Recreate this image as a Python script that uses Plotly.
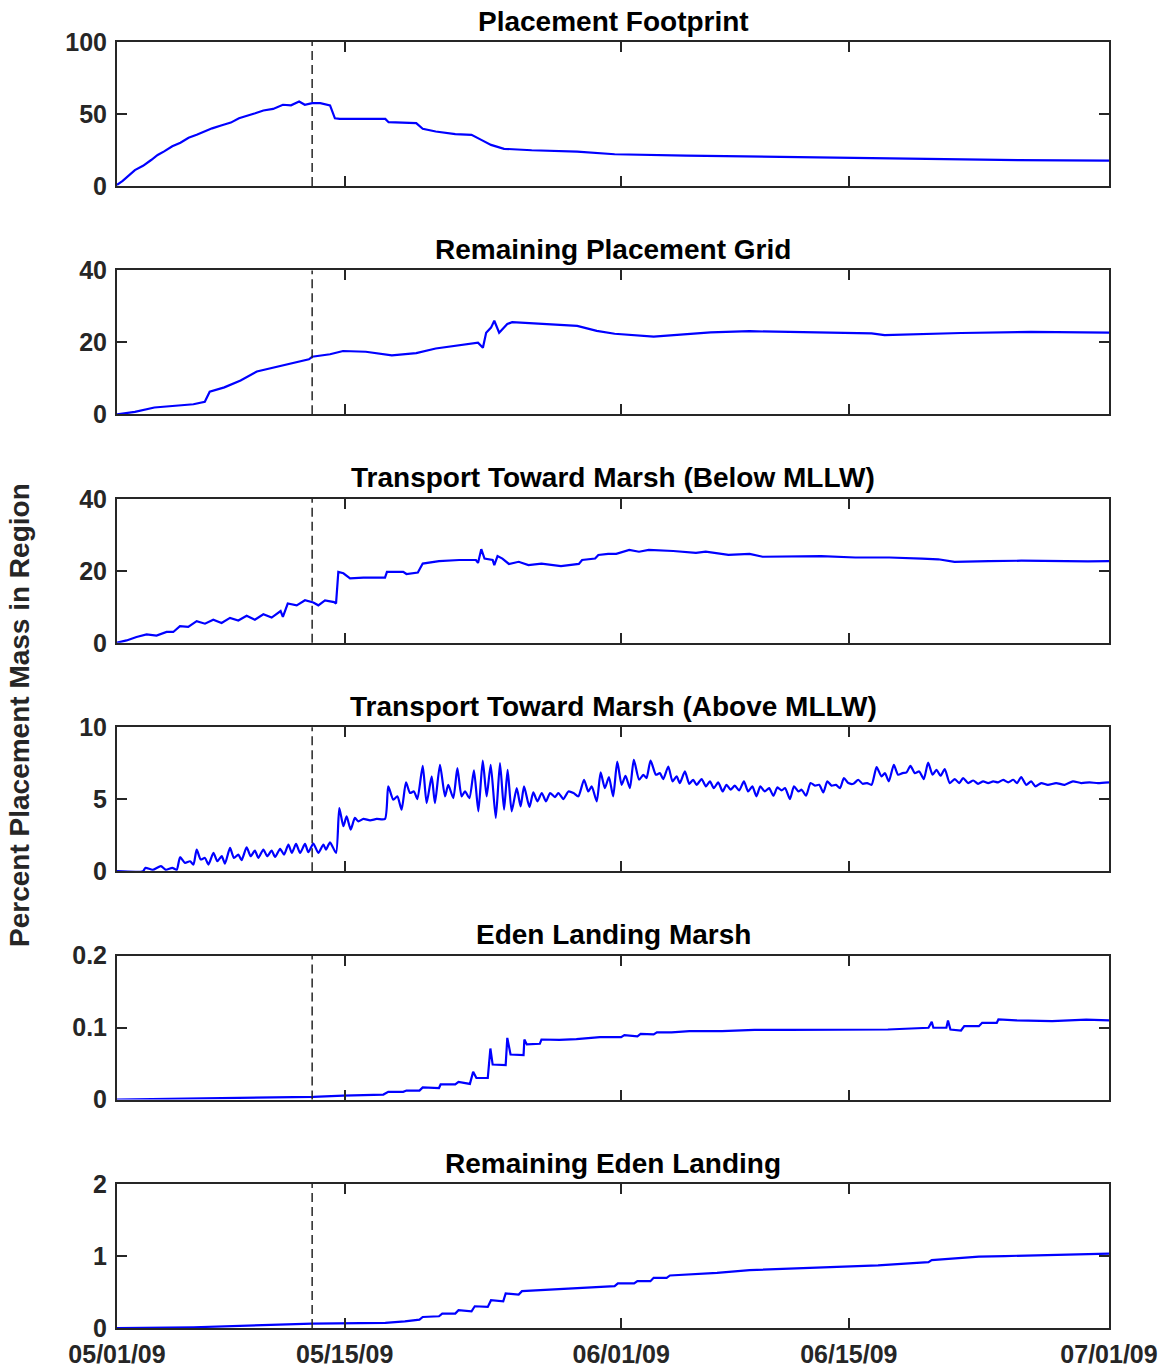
import pandas as pd
import plotly.graph_objects as go
from plotly.subplots import make_subplots

START = pd.Timestamp("2009-05-01")
EVENT_DAY = 12.0  # dashed marker, 05/13/09

# Each region: day offsets from 05/01/09 and percent of placement mass
fp_day = [0, 0.35, 1.1, 1.6, 2.1, 2.5, 2.9, 3.4, 3.9, 4.4, 4.9, 5.4, 5.85, 6.4, 7.0, 7.5, 8.0, 8.5,
          9.0, 9.6, 10.2, 10.7, 11.2, 11.55, 12.0, 12.5, 13.1, 13.4, 13.7, 16.5, 16.7, 18.4, 18.8,
          19.6, 20.8, 21.8, 22.4, 23.0, 23.8, 25.5, 28.3, 30.6, 35.0, 38.9, 44.8, 49.5, 55.4, 61.0]
fp_val = [0.7, 3.5, 11.0, 14.0, 18.0, 21.5, 24.0, 27.5, 30.0, 33.5, 35.5, 38.0, 40.0, 42.0, 44.0,
          47.0, 49.0, 50.5, 52.4, 53.5, 56.4, 56.0, 58.7, 56.4, 57.5, 57.5, 56.0, 47.0, 46.6, 46.6,
          44.3, 43.6, 39.7, 37.8, 36.0, 35.5, 32.0, 28.5, 25.8, 24.8, 23.9, 22.0, 21.1, 20.4, 19.7,
          18.8, 17.9, 17.6]

grid_day = [0, 1.1, 2.3, 3.5, 4.7, 5.4, 5.7, 6.6, 7.6, 8.6, 9.6, 10.6, 11.8, 12.0, 13.1, 13.9, 15.3,
            16.9, 18.4, 19.6, 21.0, 22.2, 22.5, 22.7, 23.0, 23.2, 23.5, 24.0, 24.3, 25.1, 27.1, 28.3,
            29.5, 30.6, 33.0, 35.0, 36.5, 38.9, 42.8, 46.4, 47.2, 49.3, 51.9, 56.2, 61.0]
grid_val = [0, 0.7, 1.9, 2.3, 2.8, 3.5, 6.3, 7.5, 9.4, 11.9, 12.9, 13.9, 15.3, 16.0, 16.7, 17.6, 17.4,
            16.4, 17.0, 18.3, 19.2, 19.9, 18.5, 22.7, 24.1, 26.0, 22.7, 25.1, 25.6, 25.4, 25.1, 24.6,
            23.2, 22.4, 21.6, 22.3, 22.8, 23.1, 22.7, 22.5, 22.0, 22.3, 22.6, 22.9, 22.7]

below_day = [0, 0.59, 1.2, 1.82, 2.43, 3.05, 3.46, 3.87, 4.38, 4.9, 5.41, 5.92, 6.43, 6.95, 7.46,
             7.97, 8.48, 9.0, 9.51, 10.06, 10.2, 10.5, 11.05, 11.56, 12.07, 12.38, 12.79, 13.35,
             13.47, 13.61, 13.92, 14.33, 15.15, 16.48, 16.6, 17.6, 17.8, 18.5, 18.8, 19.8, 21.05,
             22.07, 22.2, 22.4, 22.6, 23.1, 23.2, 23.4, 23.7, 24.1, 24.7, 25.3, 26.1, 27.3, 28.4,
             28.6, 29.4, 29.6, 30.2, 30.7, 31.5, 32.1, 32.7, 34.2, 35.6, 36.2, 37.6, 38.9, 39.7,
             41.3, 43.3, 45.4, 47.5, 49.5, 50.5, 51.5, 52.6, 53.6, 55.6, 57.7, 59.7, 61.0]
below_val = [0, 0.65, 1.6, 2.3, 2.0, 3.0, 3.0, 4.6, 4.4, 6.0, 5.3, 6.4, 5.5, 6.9, 6.2, 7.5, 6.4, 7.9,
             7.0, 8.8, 7.2, 10.9, 10.4, 11.8, 11.2, 10.4, 11.8, 11.3, 10.9, 19.7, 19.3, 17.9, 18.1,
             18.1, 19.7, 19.7, 19.1, 19.5, 22.0, 22.7, 23.0, 23.0, 22.2, 26.0, 23.4, 23.0, 21.6, 24.1,
             23.4, 21.9, 22.5, 21.6, 22.0, 21.3, 21.9, 23.0, 23.4, 24.4, 24.7, 24.7, 25.8, 25.3, 25.8,
             25.5, 25.0, 25.3, 24.4, 24.7, 23.9, 23.9, 24.1, 23.7, 23.7, 23.4, 23.2, 22.5, 22.5, 22.7,
             22.8, 22.6, 22.6, 22.7]

above_day = [0, 1.6, 1.75, 2.2, 2.7, 3.0, 3.4, 3.67, 3.88, 4.18, 4.49, 4.7, 4.9, 5.15, 5.41, 5.62,
             5.93, 6.17, 6.44, 6.64, 6.95, 7.19, 7.46, 7.66, 7.97, 8.22, 8.48, 8.69, 9.0, 9.24, 9.51,
             9.72, 10.03, 10.27, 10.54, 10.75, 11.01, 11.26, 11.56, 11.77, 12.07, 12.38, 12.69,
             12.85, 13.1, 13.47, 13.67, 13.92, 14.12, 14.37, 14.63, 14.84, 15.15, 15.56, 15.97,
             16.48, 16.68, 16.99, 17.24, 17.5, 17.77, 18.02, 18.26, 18.47, 18.8, 19.04, 19.35, 19.55,
             19.86, 20.17, 20.37, 20.68, 20.93, 21.19, 21.4, 21.67, 21.95, 22.22, 22.49, 22.73, 22.98,
             23.29, 23.55, 23.8, 24.02, 24.27, 24.58, 24.82, 25.03, 25.36, 25.6, 25.85, 26.12, 26.38,
             26.63, 26.93, 27.14, 27.45, 27.76, 28.07, 28.37, 28.72, 28.98, 29.19, 29.5, 29.74, 30.0,
             30.25, 30.51, 30.76, 31.03, 31.27, 31.54, 31.78, 32.11, 32.36, 32.56, 32.81, 33.14,
             33.38, 33.59, 33.9, 34.16, 34.41, 34.61, 34.92, 35.19, 35.43, 35.64, 35.95, 36.21,
             36.46, 36.7, 36.97, 37.24, 37.48, 37.73, 37.99, 38.26, 38.55, 38.81, 39.07, 39.32,
             39.56, 39.83, 40.1, 40.36, 40.61, 40.87, 41.08, 41.38, 41.63, 41.9, 42.1, 42.37, 42.65,
             42.92, 43.18, 43.43, 43.68, 43.94, 44.21, 44.46, 44.7, 44.97, 45.28, 45.58, 45.85,
             46.13, 46.4, 46.71, 47.01, 47.22, 47.46, 47.77, 48.03, 48.3, 48.55, 48.79, 49.06, 49.33,
             49.61, 49.88, 50.15, 50.39, 50.64, 50.9, 51.21, 51.52, 51.79, 52.03, 52.34, 52.65,
             52.95, 53.26, 53.57, 53.88, 54.18, 54.49, 54.8, 55.11, 55.35, 55.6, 55.91, 56.21, 56.48,
             56.83, 57.24, 57.75, 58.27, 58.78, 59.29, 59.8, 60.32, 61.0]
above_val = [0, 0, 0.23, 0.1, 0.35, 0.1, 0.23, 0.1, 0.97, 0.58, 0.69, 0.46, 1.5, 0.81, 0.92, 0.46,
             1.27, 0.69, 1.04, 0.53, 1.62, 0.92, 1.15, 0.76, 1.66, 1.04, 1.43, 0.92, 1.5, 1.04, 1.43,
             0.99, 1.55, 1.15, 1.85, 1.27, 1.89, 1.27, 1.89, 1.32, 1.92, 1.27, 1.85, 1.5, 2.0, 1.27,
             4.39, 3.12, 3.81, 2.89, 3.7, 3.46, 3.63, 3.53, 3.63, 3.63, 5.89, 4.97, 5.2, 4.27, 6.17,
             5.43, 5.54, 5.01, 7.32, 4.73, 6.58, 4.73, 7.39, 5.2, 6.0, 5.08, 7.16, 5.2, 5.54, 5.08,
             7.0, 4.16, 7.69, 5.2, 7.39, 3.7, 7.51, 4.27, 7.04, 4.16, 5.77, 4.5, 5.89, 4.46, 5.47,
             4.85, 5.43, 4.85, 5.43, 5.15, 5.43, 5.01, 5.54, 5.43, 5.2, 6.35, 5.54, 5.89, 4.85, 6.86,
             5.77, 6.54, 5.2, 7.62, 6.0, 6.63, 5.77, 7.74, 6.35, 6.7, 6.47, 7.69, 6.7, 6.81, 6.4,
             7.27, 6.24, 6.58, 6.12, 6.93, 6.07, 6.35, 6.0, 6.4, 5.89, 6.24, 5.77, 6.17, 5.54, 6.0,
             5.66, 5.94, 5.61, 6.24, 5.54, 5.89, 5.2, 5.89, 5.54, 5.77, 5.24, 5.82, 5.61, 5.77, 5.01,
             5.89, 5.54, 5.66, 5.24, 6.12, 5.94, 6.0, 5.47, 6.24, 5.94, 6.0, 5.77, 6.47, 6.12, 6.07,
             6.35, 6.07, 6.12, 6.0, 7.23, 6.58, 6.81, 6.24, 7.39, 6.7, 6.81, 6.86, 7.32, 6.81, 6.93,
             6.4, 7.55, 6.7, 7.04, 6.63, 7.09, 6.12, 6.4, 6.12, 6.47, 6.12, 6.3, 6.07, 6.24, 6.12,
             6.24, 6.17, 6.35, 6.17, 6.35, 6.12, 6.54, 6.0, 6.24, 5.89, 6.12, 6.0, 6.12, 6.0, 6.24,
             6.12, 6.17, 6.12, 6.17]

marsh_day = [0, 5.7, 12.07, 13.92, 16.38, 16.68, 17.6, 17.8, 18.6, 18.8, 19.8, 19.9, 20.8, 21.0,
             21.7, 21.9, 22.1, 22.8, 22.96, 23.1, 23.9, 24.0, 24.2, 25.0, 25.05, 25.2, 26.0, 26.1,
             27.2, 28.25, 29.7, 31.0, 31.2, 32.0, 32.2, 33.0, 33.2, 34.1, 35.2, 37.2, 39.2, 41.3,
             44.3, 47.4, 49.9, 50.1, 50.2, 51.0, 51.1, 51.25, 51.9, 52.1, 53.0, 53.2, 54.1, 54.2,
             55.3, 57.5, 59.6, 61.0]
marsh_val = [0, 0.0014, 0.0037, 0.0056, 0.007, 0.0107, 0.0107, 0.0125, 0.0125, 0.017, 0.016, 0.021,
             0.021, 0.0246, 0.0218, 0.0385, 0.030, 0.030, 0.071, 0.0487, 0.0478, 0.0858, 0.0626,
             0.0617, 0.0835, 0.0766, 0.0775, 0.0835, 0.083, 0.084, 0.0868, 0.0868, 0.0896, 0.088,
             0.0914, 0.0905, 0.0933, 0.0933, 0.0951, 0.0951, 0.097, 0.097, 0.097, 0.0974, 0.0998,
             0.108, 0.0998, 0.0998, 0.11, 0.0974, 0.096, 0.102, 0.102, 0.1067, 0.1067, 0.1114, 0.11,
             0.109, 0.111, 0.11]

eden_day = [0, 4.7, 12.0, 16.5, 17.7, 18.6, 18.8, 19.8, 20.0, 20.8, 21.0, 21.8, 22.0, 22.8, 23.0,
            23.75, 23.9, 24.7, 24.9, 27.1, 29.5, 30.6, 30.8, 31.8, 32.0, 32.8, 33.0, 33.8, 34.0,
            35.0, 36.9, 38.9, 40.9, 42.8, 44.8, 46.8, 48.7, 49.9, 50.1, 51.5, 53.0, 54.6, 56.6,
            58.6, 61.0]
eden_val = [0, 0.01, 0.06, 0.07, 0.093, 0.116, 0.153, 0.163, 0.2, 0.2, 0.247, 0.233, 0.302, 0.293,
            0.386, 0.372, 0.479, 0.465, 0.512, 0.535, 0.567, 0.581, 0.619, 0.619, 0.651, 0.651,
            0.698, 0.698, 0.73, 0.74, 0.767, 0.805, 0.823, 0.837, 0.851, 0.87, 0.898, 0.916, 0.944,
            0.963, 0.991, 1.0, 1.01, 1.02, 1.033]

titles = ["Placement Footprint", "Remaining Placement Grid",
          "Transport Toward Marsh (Below MLLW)", "Transport Toward Marsh (Above MLLW)",
          "Eden Landing Marsh", "Remaining Eden Landing"]
series = [(fp_day, fp_val), (grid_day, grid_val), (below_day, below_val),
          (above_day, above_val), (marsh_day, marsh_val), (eden_day, eden_val)]
y_ticks = [[0, 50, 100], [0, 20, 40], [0, 20, 40], [0, 5, 10], [0, 0.1, 0.2], [0, 1, 2]]
y_tick_text = [["0", "50", "100"], ["0", "20", "40"], ["0", "20", "40"], ["0", "5", "10"],
               ["0", "0.1", "0.2"], ["0", "1", "2"]]
x_tick_days = [0, 14, 31, 45, 61]
x_tick_text = ["05/01/09", "05/15/09", "06/01/09", "06/15/09", "07/01/09"]
y_label = "Percent Placement Mass in Region"


def to_dates(days):
    return START + pd.to_timedelta(pd.Series(days, dtype=float), unit="D")


FONT = "Liberation Sans, Arial, Helvetica, sans-serif"
AX = "#262626"

fig = make_subplots(rows=6, cols=1, vertical_spacing=0.0657)

x_range = [to_dates([0])[0], to_dates([61])[0]]
event = to_dates([EVENT_DAY])[0]

for i, (days, vals) in enumerate(series):
    r = i + 1
    shape = "spline" if i == 3 else "linear"
    fig.add_trace(go.Scatter(x=to_dates(days), y=vals, mode="lines",
                             line=dict(color="#0000ff", width=2.2, shape=shape, smoothing=0.6),
                             showlegend=False, hoverinfo="skip"), row=r, col=1)
    fig.add_vline(x=event, line=dict(color=AX, width=1.5, dash="9px,5px"), row=r, col=1)
    fig.update_xaxes(type="date", range=x_range, tickmode="array",
                     tickvals=list(to_dates(x_tick_days)), ticktext=x_tick_text,
                     showticklabels=(r == 6), ticks="inside", ticklen=10, tickwidth=1.5,
                     tickcolor=AX, showline=True, linecolor=AX, linewidth=2, mirror="ticks",
                     showgrid=False, zeroline=False, automargin=False, ticklabelstandoff=3,
                     tickfont=dict(family=FONT, size=25, color=AX, weight="bold"),
                     row=r, col=1)
    fig.update_yaxes(range=[y_ticks[i][0], y_ticks[i][-1]], tickmode="array",
                     tickvals=y_ticks[i], ticktext=y_tick_text[i],
                     ticks="inside", ticklen=10, tickwidth=1.5, tickcolor=AX,
                     showline=True, linecolor=AX, linewidth=2, mirror="ticks",
                     showgrid=False, zeroline=False, automargin=False, ticklabelstandoff=3,
                     tickfont=dict(family=FONT, size=25, color=AX, weight="bold"),
                     row=r, col=1)

# Panel titles above each axes box
for i, t in enumerate(titles):
    yax = fig.layout["yaxis" if i == 0 else f"yaxis{i + 1}"]
    fig.add_annotation(text=t, xref="paper", yref="paper", x=0.5, y=yax.domain[1],
                       xanchor="center", yanchor="middle", yshift=21, showarrow=False,
                       font=dict(family=FONT, size=28, color="#000000", weight="bold"))

fig.add_annotation(text=y_label, xref="paper", yref="paper", x=0, y=0.4767, xshift=-97,
                   xanchor="center", yanchor="middle", textangle=-90, showarrow=False,
                   font=dict(family=FONT, size=28, color=AX, weight="bold"))

fig.update_layout(width=1165, height=1368, margin=dict(l=117, r=56, t=42, b=40),
                  paper_bgcolor="white", plot_bgcolor="white")

fig.write_html("out.html")
